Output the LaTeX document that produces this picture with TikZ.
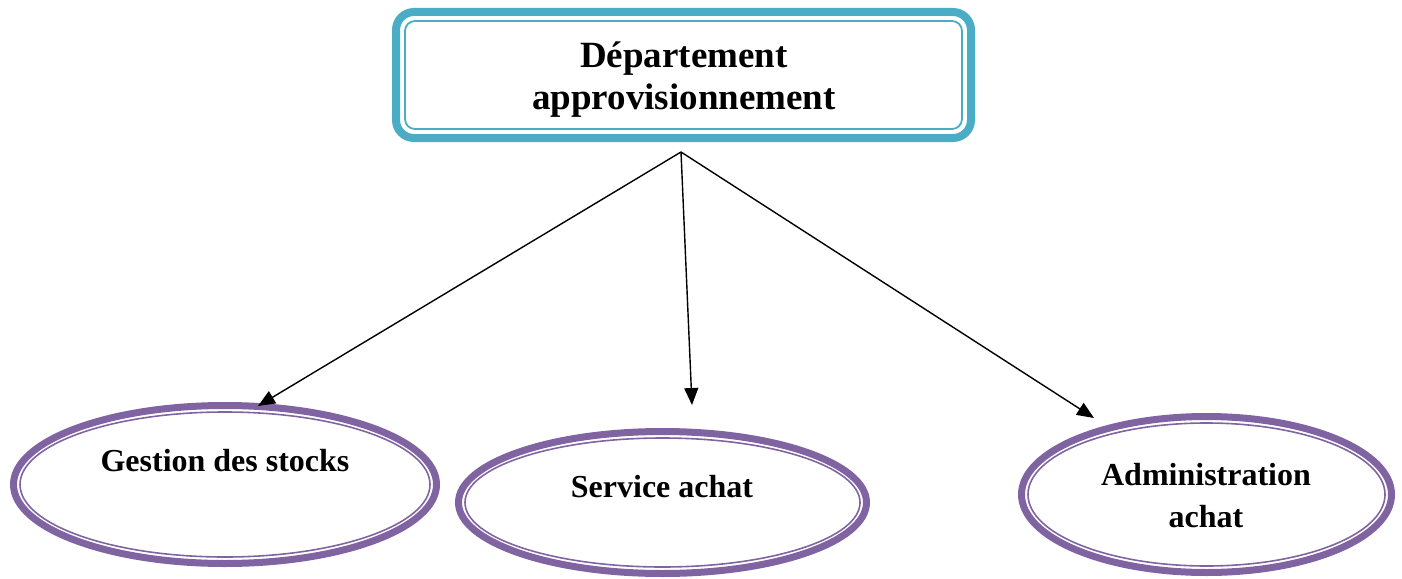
\documentclass[tikz,border=0pt]{standalone}
\usepackage{fontspec}
\setmainfont{Liberation Serif}
\usetikzlibrary{shapes.geometric,arrows.meta}
\definecolor{boxblue}{HTML}{4BACC6}
\definecolor{ellpurple}{HTML}{8064A2}
\begin{document}
\begin{tikzpicture}[x=1pt,y=-1pt,
  lbl/.style={font=\bfseries\fontsize{32}{42}\selectfont, align=center, inner sep=0pt},
  toplbl/.style={font=\bfseries\fontsize{37}{42}\selectfont, align=center, inner sep=0pt},
  outerell/.style={ellipse, draw=ellpurple, line width=7pt, inner sep=0pt},
  innerell/.style={draw=ellpurple, line width=1.6pt},
  arr/.style={-{Triangle[length=17pt,width=14pt]}, line width=1.4pt}]
\useasboundingbox (0,0) rectangle (1402,578);
% top box
\draw[boxblue, line width=8pt, rounded corners=18pt] (396,12) rectangle (971,138);
\draw[boxblue, line width=1.8pt, rounded corners=10pt] (405,21) rectangle (962,129);
\node[toplbl] (dep) at (684,80) {Département\\approvisionnement};
% ellipses
\node[outerell, minimum width=423pt, minimum height=158pt] (gs) at (225,484.5) {};
\draw[innerell] (gs.center) ellipse [x radius=205pt, y radius=72.5pt];
\node[lbl, anchor=base] (gst) at (225,471) {Gestion des stocks};
\node[outerell, minimum width=408pt, minimum height=142pt] (sa) at (662.5,502.5) {};
\draw[innerell] (sa.center) ellipse [x radius=197.5pt, y radius=64.5pt];
\node[lbl, anchor=base] (sat) at (662,497) {Service achat};
\node[outerell, minimum width=370pt, minimum height=156pt] (aa) at (1206.5,494.5) {};
\draw[innerell] (aa.center) ellipse [x radius=178.5pt, y radius=71.5pt];
\node[lbl] (aat) at (1206,496) {Administration\\achat};
% connectors
\coordinate (src) at (681,152);
\coordinate (tg) at (258,406);
\coordinate (ts) at (692,405);
\coordinate (ta) at (1094,418);
\draw[arr] (src) -- (tg);
\draw[arr] (src) -- (ts);
\draw[arr] (src) -- (ta);
\end{tikzpicture}
\end{document}
